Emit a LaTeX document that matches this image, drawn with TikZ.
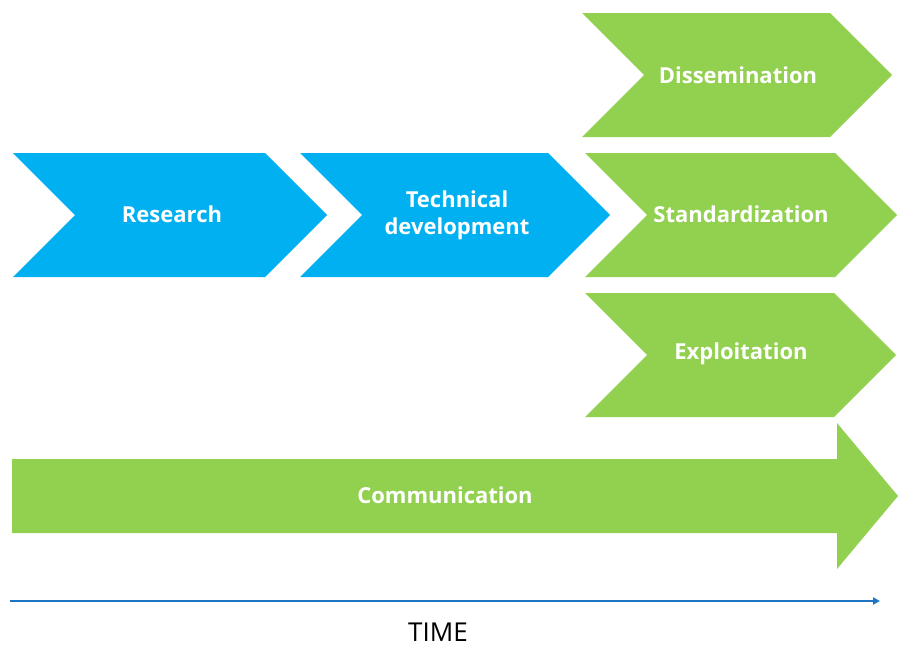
\documentclass[tikz,border=0pt]{standalone}
\usepackage{fontspec}
\setsansfont{Open Sans}
\usepackage{tikz}
\usetikzlibrary{arrows.meta}
\definecolor{chevblue}{HTML}{00B0F0}
\definecolor{chevgreen}{HTML}{92D050}
\definecolor{timeblue}{HTML}{1F74C4}
\def\chevron#1#2#3{(#1,#2) -- ++(#3,0) -- ++(62,62) -- ++(-62,62) -- ++(-#3,0) -- ++(62,-62) -- cycle}
\def\commarrow{(12,459) -- (837,459) -- (837,423) -- (898,496) -- (837,569) -- (837,533) -- (12,533) -- cycle}
\def\pagebox{(0,0) rectangle (898,645)}
\tikzset{steplabel/.style={text=white,font=\sffamily\bfseries\fontsize{22}{27}\selectfont,align=center}}

\begin{document}
\begin{tikzpicture}[x=1pt,y=-1pt]
\useasboundingbox \pagebox;
\fill[chevblue] \chevron{13}{153}{252} \chevron{300}{153}{248};
\fill[chevgreen] \chevron{582}{13}{248} \chevron{585}{153}{250} \chevron{585}{293}{249} \commarrow;
\node[steplabel] (research) at (172,214) {Research};
\node[steplabel] (techdev) at (457,215) {Technical\\development};
\node[steplabel] (dissem) at (738,75) {Dissemination};
\node[steplabel] (standard) at (741,214) {Standardization};
\node[steplabel] (exploit) at (741,354) {Exploitation};
\node[steplabel] (comm) at (445,495) {Communication};
\coordinate (tstart) at (10,601);
\coordinate (tend) at (880,601);
\draw[timeblue,line width=2pt,-{Triangle[length=7pt,width=7pt]}] (tstart) -- (tend);
\node[font=\sffamily\fontsize{26}{28}\selectfont,anchor=base,inner sep=0pt] (time) at (438,641) {TIME};
\end{tikzpicture}
\end{document}
